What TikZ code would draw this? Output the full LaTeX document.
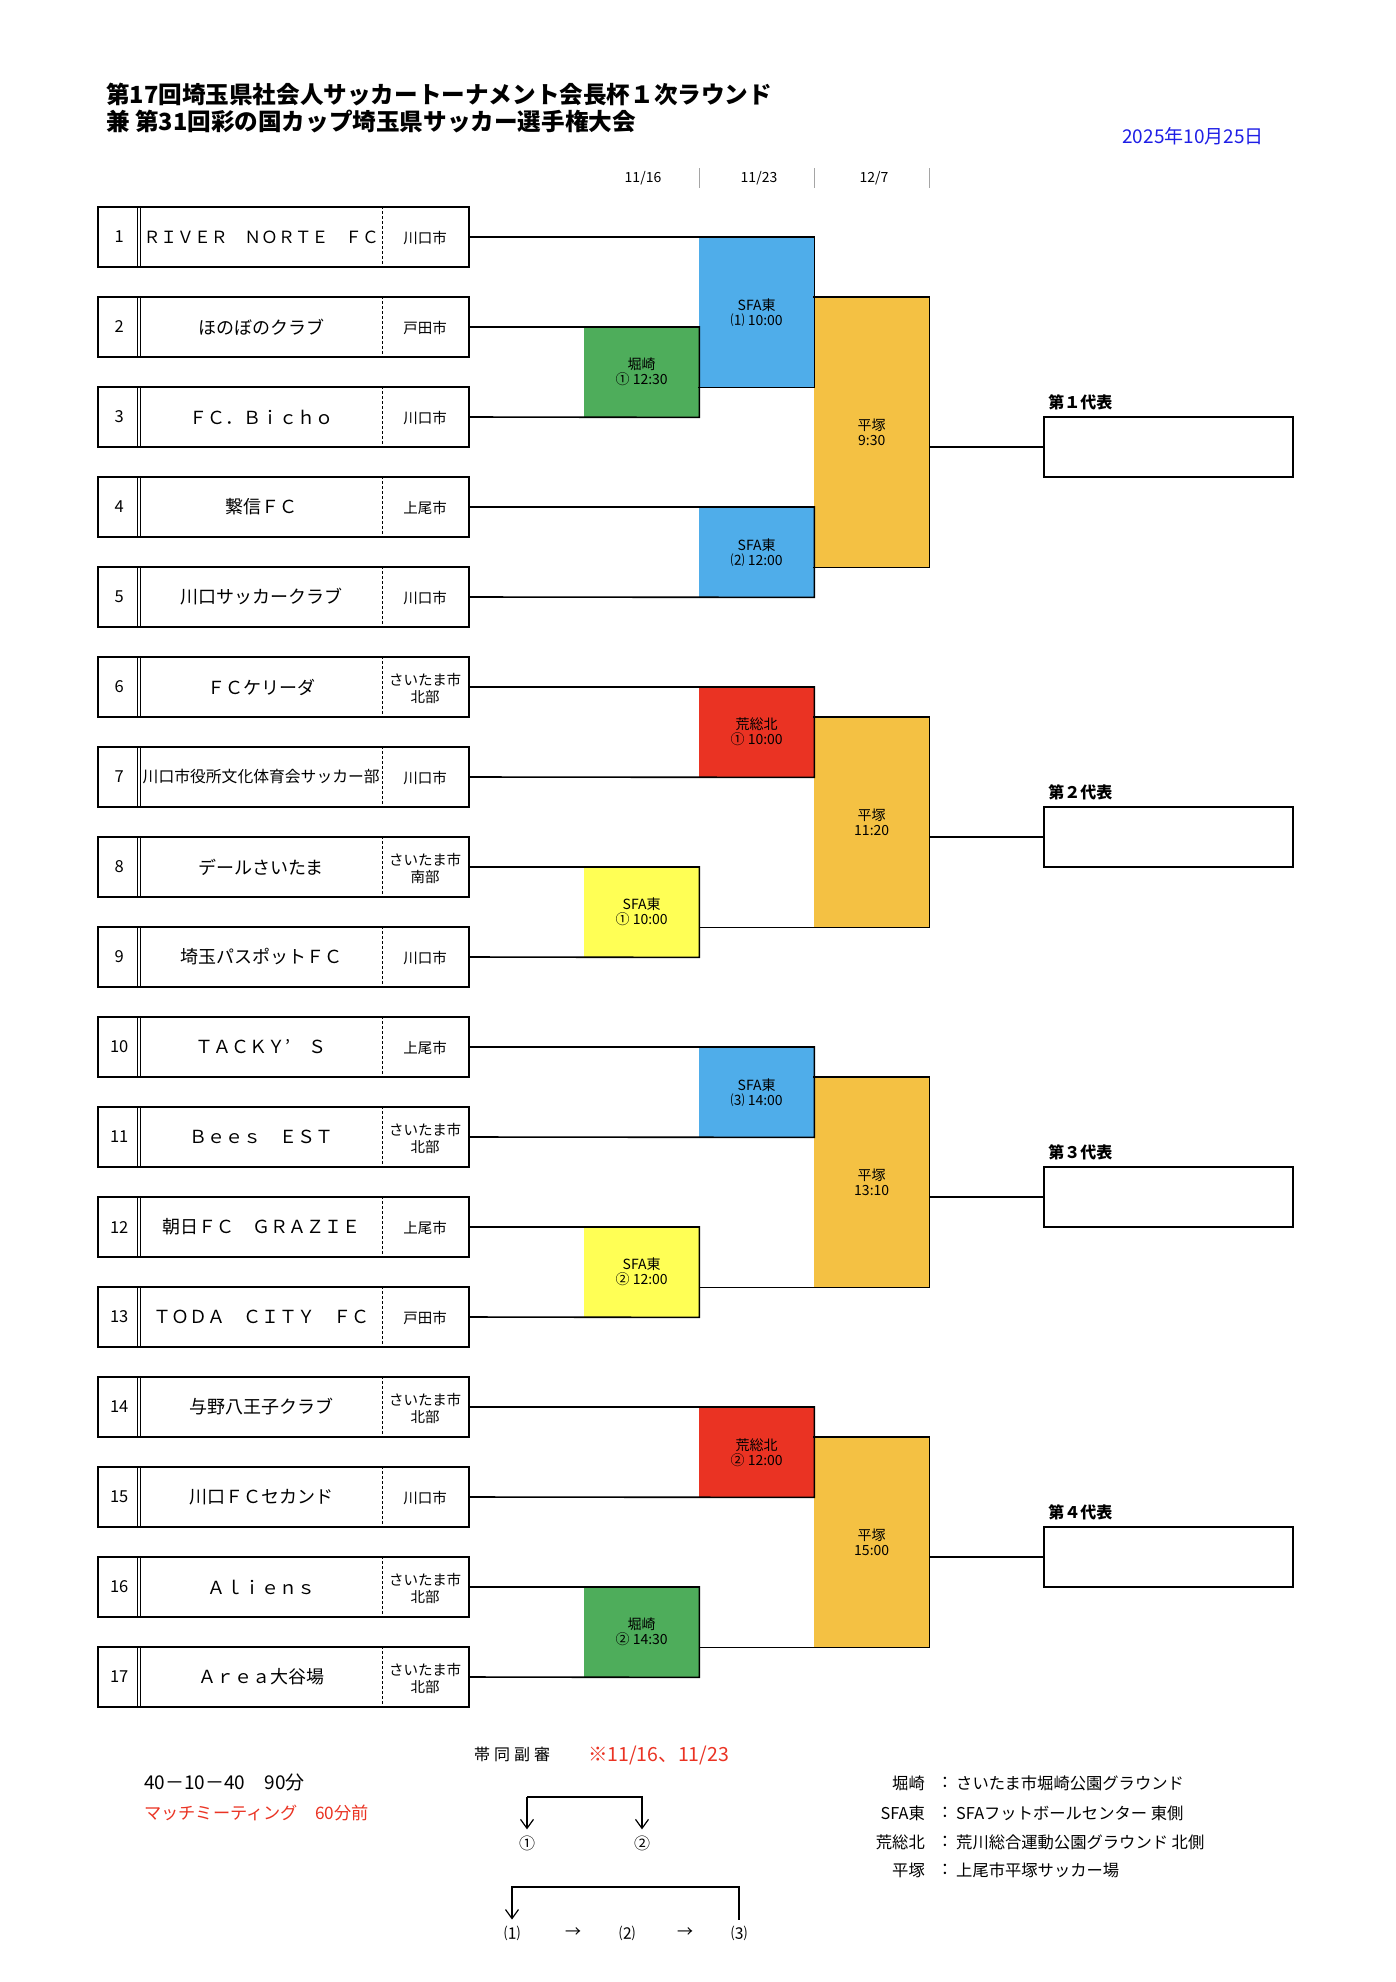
\documentclass[tikz,border=0pt]{standalone}
\usepackage{fontspec}
\setmainfont{Noto Sans CJK JP}
\usetikzlibrary{positioning,arrows.meta}
\tikzstyle{sheet} = [x = 1pt, y = -1pt]
\definecolor{sfaColor}{RGB}{79,173,234}
\definecolor{horiColor}{RGB}{78,173,91}
\definecolor{araColor}{RGB}{234,51,35}
\definecolor{yellowColor}{RGB}{255,255,85}
\definecolor{hiraColor}{RGB}{244,193,67}
\definecolor{dateColor}{RGB}{30,30,230}
\definecolor{noteColor}{RGB}{234,51,35}
\definecolor{sepColor}{RGB}{165,165,165}
\newcommand{\fs}[2]{\fontsize{#1}{#2}\selectfont}
\tikzstyle{bracketLine} = [line width = 1.6pt, line cap = rect]
\tikzstyle{thinLine} = [line width = 1pt]
\tikzstyle{dashLine} = [line width = 1pt, dash pattern = on 3pt off 2pt]
\tikzstyle{teamBox} = [draw, line width = 1.6pt, minimum width = 371pt, minimum height = 60pt, inner sep = 0pt]
\tikzstyle{numText} = [font = \fs{16.5}{16.5}, inner sep = 0pt]
\tikzstyle{nameText} = [font = \fs{18}{18}, inner sep = 0pt]
\tikzstyle{cityText} = [font = \fs{14.5}{17}, align = center, inner sep = 0pt]
\tikzstyle{matchBox} = [anchor = north west, minimum width = 115pt, inner sep = 0pt, align = center, font = \fs{14}{15}]
\tikzstyle{repBox} = [draw, line width = 1.6pt, minimum width = 249pt, minimum height = 60pt, inner sep = 0pt]
\tikzstyle{repLabel} = [font = \bfseries\fs{16}{16}, inner sep = 0pt]
\tikzstyle{headText} = [font = \fs{14}{14}, inner sep = 0pt]
\tikzstyle{sepLine} = [color = sepColor, line width = 0.8pt]
\tikzstyle{titleText} = [font = \bfseries\fs{23.6}{23.6}, inner sep = 0pt, anchor = base west]
\tikzstyle{noteText} = [font = \fs{19}{19}, inner sep = 0pt, anchor = base west]
\tikzstyle{legendText} = [font = \fs{16.3}{16.3}, inner sep = 0pt]
\tikzstyle{refText} = [font = \fs{16}{16}, inner xsep = 0pt, inner ysep = 6pt]
\tikzstyle{refArrow} = [line width = 1.2pt, -{Straight Barb[length = 9pt, width = 13pt]}]
\newcommand{\teamRow}[3]{
  \pgfmathsetmacro{\rowY}{237 + 90 * (#1 - 1)}
  \node [teamBox] (team#1) at (283.5, \rowY) {};
  \draw [thinLine] ([xshift = 40pt] team#1.north west) -- ([xshift = 40pt] team#1.south west);
  \draw [thinLine] ([xshift = 43.5pt] team#1.north west) -- ([xshift = 43.5pt] team#1.south west);
  \draw [dashLine] ([xshift = 285pt] team#1.north west) -- ([xshift = 285pt] team#1.south west);
  \node [numText] (team#1num) at ([xshift = 22pt] team#1.west) {#1};
  \node [nameText] (team#1name) at ([xshift = 164pt] team#1.west) {#2};
  \node [cityText] (team#1city) at ([xshift = 328pt, yshift = -1pt] team#1.west) {#3};
}
\newcommand{\repBlock}[3]{
  \node [repBox] (#1) at (1168.5, #2) {};
  \node [repLabel, above right = 6pt and 5pt of #1.north west] (#1label) {#3};
}
\begin{document}
\begin{tikzpicture}[sheet]
  \fill [white] (0, 0) rectangle (1396, 1982);
  \useasboundingbox (0, 0) rectangle (1396, 1982);

  \node [titleText] (titleA) at (106, 103) {第17回埼玉県社会人サッカートーナメント会長杯１次ラウンド};
  \node [titleText] (titleB) at (106, 130) {兼 第31回彩の国カップ埼玉県サッカー選手権大会};
  \node [font = \fs{19}{19}, text = dateColor, inner sep = 0pt, anchor = base east] (issueDate) at (1264, 143) {2025年10月25日};

  \node [headText] (dayA) at (643, 178) {11/16};
  \node [headText] (dayB) at (759, 178) {11/23};
  \node [headText] (dayC) at (874, 178) {12/7};
  \foreach \sep in {699, 814, 929} {
    \draw [sepLine] (\sep, 168) -- (\sep, 188);
  }

  \teamRow{1}{{\fs{16.8}{16.8}ＲＩＶＥＲ　ＮＯＲＴＥ　ＦＣ}}{川口市}
  \teamRow{2}{ほのぼのクラブ}{戸田市}
  \teamRow{3}{ＦＣ．Ｂｉｃｈｏ}{川口市}
  \teamRow{4}{繋信ＦＣ}{上尾市}
  \teamRow{5}{川口サッカークラブ}{川口市}
  \teamRow{6}{ＦＣケリーダ}{さいたま市\\北部}
  \teamRow{7}{{\fs{15.8}{15.8}川口市役所文化体育会サッカー部}}{川口市}
  \teamRow{8}{デールさいたま}{さいたま市\\南部}
  \teamRow{9}{埼玉パスポットＦＣ}{川口市}
  \teamRow{10}{ＴＡＣＫＹ’　Ｓ}{上尾市}
  \teamRow{11}{Ｂｅｅｓ　ＥＳＴ}{さいたま市\\北部}
  \teamRow{12}{朝日ＦＣ　ＧＲＡＺＩＥ}{上尾市}
  \teamRow{13}{ＴＯＤＡ　ＣＩＴＹ　ＦＣ}{戸田市}
  \teamRow{14}{与野八王子クラブ}{さいたま市\\北部}
  \teamRow{15}{川口ＦＣセカンド}{川口市}
  \teamRow{16}{Ａｌｉｅｎｓ}{さいたま市\\北部}
  \teamRow{17}{Ａｒｅａ大谷場}{さいたま市\\北部}

  \node [matchBox, fill = sfaColor, minimum height = 150pt] (sfaA) at (699, 237) {SFA東\\⑴ 10:00};
  \node [matchBox, fill = horiColor, minimum height = 90pt] (horiA) at (584, 327) {堀崎\\① 12:30};
  \node [matchBox, fill = sfaColor, minimum height = 90pt] (sfaB) at (699, 507) {SFA東\\⑵ 12:00};
  \node [matchBox, fill = hiraColor, minimum height = 270pt] (hiraA) at (814, 297) {平塚\\9:30};

  \node [matchBox, fill = araColor, minimum height = 90pt] (araA) at (699, 687) {荒総北\\① 10:00};
  \node [matchBox, fill = yellowColor, minimum height = 90pt] (sfaC) at (584, 867) {SFA東\\① 10:00};
  \node [matchBox, fill = hiraColor, minimum height = 210pt] (hiraB) at (814, 717) {平塚\\11:20};

  \node [matchBox, fill = sfaColor, minimum height = 90pt] (sfaD) at (699, 1047) {SFA東\\⑶ 14:00};
  \node [matchBox, fill = yellowColor, minimum height = 90pt] (sfaE) at (584, 1227) {SFA東\\② 12:00};
  \node [matchBox, fill = hiraColor, minimum height = 210pt] (hiraC) at (814, 1077) {平塚\\13:10};

  \node [matchBox, fill = araColor, minimum height = 90pt] (araB) at (699, 1407) {荒総北\\② 12:00};
  \node [matchBox, fill = horiColor, minimum height = 90pt] (horiB) at (584, 1587) {堀崎\\② 14:30};
  \node [matchBox, fill = hiraColor, minimum height = 210pt] (hiraD) at (814, 1437) {平塚\\15:00};

  \repBlock{repA}{447}{第１代表}
  \repBlock{repB}{837}{第２代表}
  \repBlock{repC}{1197}{第３代表}
  \repBlock{repD}{1557}{第４代表}

  \draw [bracketLine] (team1.east) -- (sfaA.north east) -- (sfaA.south east) -- (sfaA.south west);
  \draw [bracketLine] (team2.east) -- (horiA.north east) -- (horiA.south east) -- (team3.east);
  \draw [bracketLine] (team4.east) -- (sfaB.north east) -- (sfaB.south east) -- (team5.east);
  \draw [bracketLine] (hiraA.north west) -- (hiraA.north east) -- (hiraA.south east) -- (hiraA.south west);
  \draw [bracketLine] (repA.west -| hiraA.east) -- (repA.west);

  \draw [bracketLine] (team6.east) -- (araA.north east) -- (araA.south east) -- (team7.east);
  \draw [bracketLine] (team8.east) -- (sfaC.north east) -- (sfaC.south east) -- (team9.east);
  \draw [bracketLine] (hiraB.north west) -- (hiraB.north east) -- (hiraB.south east) -- (hiraB.south east -| sfaC.east);
  \draw [bracketLine] (repB.west -| hiraB.east) -- (repB.west);

  \draw [bracketLine] (team10.east) -- (sfaD.north east) -- (sfaD.south east) -- (team11.east);
  \draw [bracketLine] (team12.east) -- (sfaE.north east) -- (sfaE.south east) -- (team13.east);
  \draw [bracketLine] (hiraC.north west) -- (hiraC.north east) -- (hiraC.south east) -- (hiraC.south east -| sfaE.east);
  \draw [bracketLine] (repC.west -| hiraC.east) -- (repC.west);

  \draw [bracketLine] (team14.east) -- (araB.north east) -- (araB.south east) -- (team15.east);
  \draw [bracketLine] (team16.east) -- (horiB.north east) -- (horiB.south east) -- (team17.east);
  \draw [bracketLine] (hiraD.north west) -- (hiraD.north east) -- (hiraD.south east) -- (hiraD.south east -| horiB.east);
  \draw [bracketLine] (repD.west -| hiraD.east) -- (repD.west);

  \node [noteText] (matchTime) at (144, 1789) {40－10－40　90分};
  \node [noteText, text = noteColor, font = \fs{17.2}{17.2}] (meeting) at (144, 1819) {マッチミーティング　60分前};

  \node [noteText, font = \fs{16}{16}] (refTitle) at (474, 1760) {帯\hspace{4pt}同\hspace{4pt}副\hspace{4pt}審};
  \node [noteText, text = noteColor, font = \fs{19.5}{19.5}] (refDates) at (588, 1761) {※11/16、11/23};

  \coordinate (refTopA) at (0, 1797);
  \node [refText] (refOne) at (527, 1843) {①};
  \node [refText] (refTwo) at (642, 1843) {②};
  \draw [refArrow] (refOne.north |- refTopA) -- (refOne.north);
  \draw [refArrow] (refOne.north |- refTopA) -- (refTwo.north |- refTopA) -- (refTwo.north);

  \coordinate (refTopB) at (0, 1887);
  \node [refText] (refPa) at (512, 1933) {⑴};
  \node [refText] (refPb) at (627, 1933) {⑵};
  \node [refText] (refPc) at (739, 1933) {⑶};
  \node [refText] (refArrA) at (573, 1933) {→};
  \node [refText] (refArrB) at (685, 1933) {→};
  \draw [refArrow] (refPc.north) -- (refPc.north |- refTopB) -- (refPa.north |- refTopB) -- (refPa.north);

  \node [legendText, anchor = east] (legHoriKey) at (925, 1783) {堀崎};
  \node [legendText, anchor = east] (legSfaKey) at (925, 1813) {SFA東};
  \node [legendText, anchor = east] (legAraKey) at (925, 1842) {荒総北};
  \node [legendText, anchor = east] (legHiraKey) at (925, 1870) {平塚};
  \foreach \legY in {1783, 1813, 1842, 1870} {
    \node [legendText] at (945, \legY) {：};
  }
  \node [legendText, anchor = west] (legHori) at (956, 1783) {さいたま市堀崎公園グラウンド};
  \node [legendText, anchor = west] (legSfa) at (956, 1813) {SFAフットボールセンター 東側};
  \node [legendText, anchor = west] (legAra) at (956, 1842) {荒川総合運動公園グラウンド 北側};
  \node [legendText, anchor = west] (legHira) at (956, 1870) {上尾市平塚サッカー場};
\end{tikzpicture}
\end{document}
